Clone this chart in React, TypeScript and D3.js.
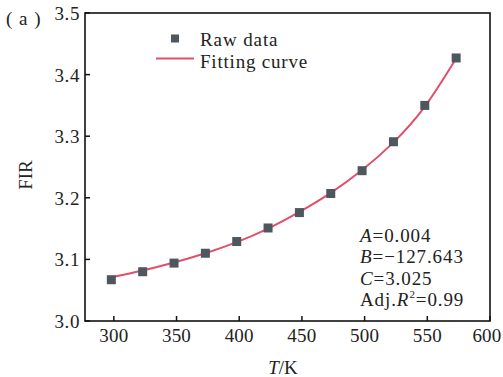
import React from "react";
import * as d3 from "d3";

const temps = [298, 323, 348, 373, 398, 423, 448, 473, 498, 523, 548, 573];
const rawFIR = [3.067, 3.080, 3.094, 3.110, 3.129, 3.151, 3.176, 3.207, 3.244, 3.291, 3.350, 3.427];
const fitFIR = [3.071, 3.082, 3.095, 3.110, 3.128, 3.150, 3.177, 3.208, 3.245, 3.290, 3.348, 3.426];
const xTicks = [300, 350, 400, 450, 500, 550, 600];
const yTicks = [3.0, 3.1, 3.2, 3.3, 3.4, 3.5];
const fitParams = [
  { name: "A", value: "0.004" },
  { name: "B", value: "\u2212127.643" },
  { name: "C", value: "3.025" },
];
const adjR2 = "0.99";

const W = 503, H = 377;
const left = 85, right = 490, top = 13, bottom = 321;
const FONT = "'Liberation Serif', 'Times New Roman', serif";

export default function App() {
  const x = d3.scaleLinear().domain([277, 600]).range([left, right]);
  const y = d3.scaleLinear().domain([3.0, 3.5]).range([bottom, top]);
  const line = d3
    .line<number>()
    .x((_, i) => x(temps[i]))
    .y((d) => y(d))
    .curve(d3.curveNatural);
  const fs = 19;
  const markerSize = 9;
  const markerColor = "#4e575d";
  const lineColor = "#e0506a";
  return (
    <svg width={W} height={H} style={{ position: "absolute", left: 0, top: 0, background: "#fff" }}
      fontFamily={FONT} fill="#222">
      <path d={line(fitFIR) || ""} fill="none" stroke={lineColor} strokeWidth={2} />
      {temps.map((t, i) => (
        <rect key={t} x={x(t) - markerSize / 2} y={y(rawFIR[i]) - markerSize / 2}
          width={markerSize} height={markerSize} fill={markerColor} />
      ))}
      <rect x={left} y={top} width={right - left} height={bottom - top} fill="none" stroke="#111" strokeWidth={1.6} />
      {xTicks.map((t, i) => {
        const last = i === xTicks.length - 1;
        return (
          <g key={t}>
            <line x1={x(t)} x2={x(t)} y1={bottom} y2={bottom - 5} stroke="#111" strokeWidth={1.5} />
            <text x={last ? W - 1.5 : x(t)} y={342} textAnchor={last ? "end" : "middle"} fontSize={fs} letterSpacing={0.2}>{t}</text>
          </g>
        );
      })}
      {yTicks.map((t) => (
        <g key={t}>
          <line x1={left} x2={left + 5} y1={y(t)} y2={y(t)} stroke="#111" strokeWidth={1.5} />
          <text x={80} y={y(t) + 7} textAnchor="end" fontSize={fs} letterSpacing={0.6}>{t.toFixed(1)}</text>
        </g>
      ))}
      <text x={283} y={374} textAnchor="middle" fontSize={fs}>
        <tspan fontStyle="italic">T</tspan>/K
      </text>
      <text transform={`translate(32,175) rotate(-90)`} textAnchor="middle" fontSize={fs}>FIR</text>
      <text x={6} y={25} fontSize={fs} letterSpacing={1}>( a )</text>
      <rect x={175 - 4} y={38.5 - 4} width={8} height={8} fill={markerColor} />
      <text x={200} y={46} fontSize={fs} letterSpacing={0.9}>Raw data</text>
      <line x1={156} x2={194} y1={58.5} y2={58.5} stroke={lineColor} strokeWidth={2} />
      <text x={200} y={68} fontSize={fs} letterSpacing={0.8}>Fitting curve</text>
      {fitParams.map((p, i) => (
        <text key={p.name} x={360} y={242 + i * 21.3} fontSize={fs} letterSpacing={0.9}>
          <tspan fontStyle="italic">{p.name}</tspan>={p.value}
        </text>
      ))}
      <text x={360} y={306} fontSize={fs} letterSpacing={0.9}>
        Adj.<tspan fontStyle="italic">R</tspan>
        <tspan fontSize={11} dy={-8}>2</tspan>
        <tspan dy={8}>={adjR2}</tspan>
      </text>
    </svg>
  );
}
